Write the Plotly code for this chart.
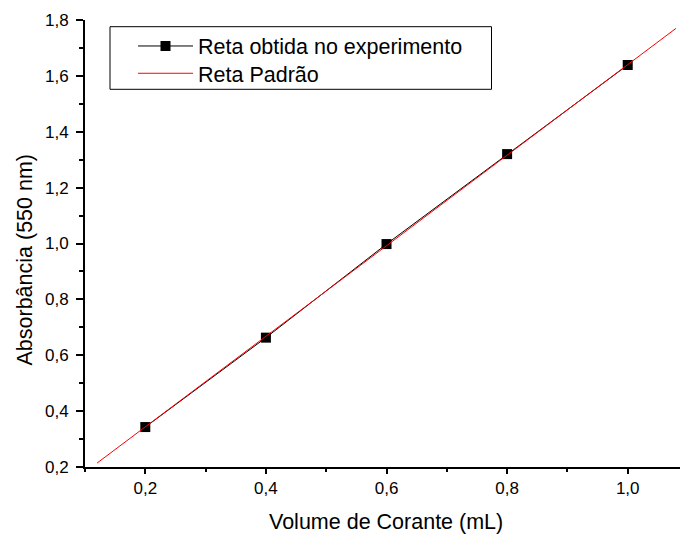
import plotly.graph_objects as go

# Calibration data: dye volume (mL) vs absorbance at 550 nm
volume_ml = [0.2, 0.4, 0.6, 0.8, 1.0]
absorbancia = [0.343, 0.663, 0.998, 1.320, 1.639]

# Standard calibration line (endpoints)
padrao_x = [0.12, 1.08]
padrao_y = [0.214, 1.770]

font_family = "Liberation Sans, Arial, sans-serif"

W, H = 680, 536
ML, MR, MT, MB = 85, 0, 20, 69
PW, PH = W - ML - MR, H - MT - MB


def px_x(px):
    return (px - ML) / PW


def px_y(py):
    return 1 - (py - MT) / PH


fig = go.Figure()
fig.add_trace(go.Scatter(
    x=volume_ml, y=absorbancia, mode="lines+markers",
    name="Reta obtida no experimento",
    line=dict(color="black", width=1),
    marker=dict(symbol="square", size=10, color="black"),
    legend="legend",
))
fig.add_trace(go.Scatter(
    x=padrao_x, y=padrao_y, mode="lines",
    name="Reta Padrão",
    line=dict(color="red", width=1),
    legend="legend2",
))

axis_common = dict(
    showline=True, linecolor="black", linewidth=2,
    ticks="outside", tickwidth=1.5, tickcolor="black",
    showgrid=False, zeroline=False, mirror=False,
    tickfont=dict(family=font_family, size=17, color="black"),
    tickformat=".1f",
)

fig.update_xaxes(
    range=[0.1, 1.0867], tick0=0.2, dtick=0.2, ticklen=5,
    minor=dict(ticks="outside", ticklen=3, tickcolor="black", tickwidth=1.5, dtick=0.1, tick0=0.1),
    **axis_common,
)
fig.update_yaxes(
    range=[0.2, 1.8], tick0=0.2, dtick=0.2, ticklen=7,
    ticklabelstandoff=4,
    minor=dict(ticks="outside", ticklen=4, tickcolor="black", tickwidth=1.5, dtick=0.1, tick0=0.1),
    **axis_common,
)

# Legend frame
fig.add_shape(
    type="rect", xref="paper", yref="paper",
    x0=px_x(110), x1=px_x(491.5), y0=px_y(89.3), y1=px_y(26.7),
    line=dict(color="black", width=1), fillcolor="white", layer="below",
)

# Axis titles
fig.add_annotation(
    text="Volume de Corante (mL)", xref="paper", yref="paper",
    x=px_x(386), y=px_y(522), xanchor="center", yanchor="middle",
    showarrow=False, font=dict(family=font_family, size=21.5, color="black"),
)
fig.add_annotation(
    text="Absorbância (550 nm)", xref="paper", yref="paper",
    x=px_x(24), y=px_y(259.5), xanchor="center", yanchor="middle",
    textangle=-90, showarrow=False,
    font=dict(family=font_family, size=21.5, color="black"),
)

legend_style = dict(
    xanchor="left", yanchor="middle",
    borderwidth=0, bgcolor="rgba(0,0,0,0)",
    font=dict(family=font_family, size=21.5, color="black"),
    itemwidth=55,
)

fig.update_layout(
    width=W, height=H,
    margin=dict(l=ML, r=MR, t=MT, b=MB),
    paper_bgcolor="white", plot_bgcolor="white",
    separators=",.",
    showlegend=True,
    legend=dict(x=px_x(133), y=px_y(46), **legend_style),
    legend2=dict(x=px_x(133), y=px_y(73.3), **legend_style),
)

fig.write_html("out.html")
